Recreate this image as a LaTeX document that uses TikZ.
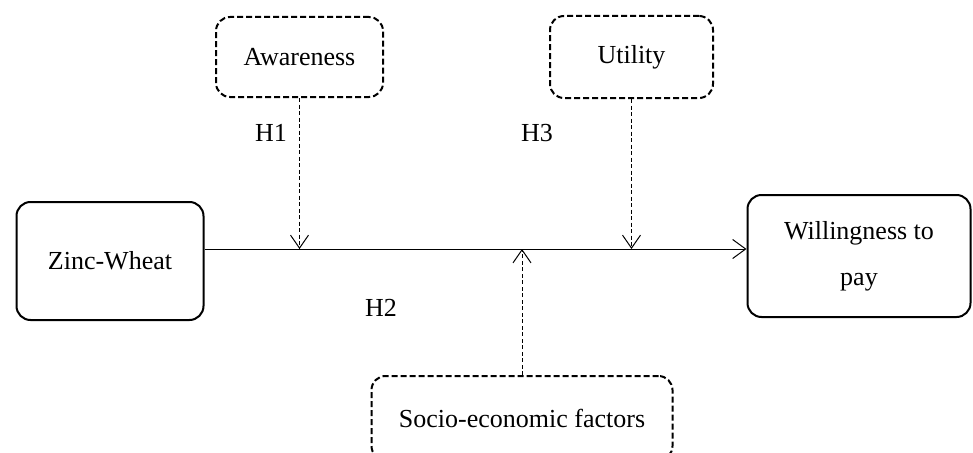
\documentclass[tikz,border=0pt]{standalone}
\usepackage{fontspec}
\setmainfont{Liberation Serif}
\usetikzlibrary{arrows.meta,calc}

\begin{document}
\begin{tikzpicture}[x=1pt,y=-1pt,
  font=\fontsize{26}{46}\selectfont,
  solidbox/.style={draw,line width=2pt,rounded corners=14pt,align=center,inner sep=0pt},
  dashbox/.style={draw,line width=2pt,dashed,dash pattern=on 6pt off 3pt,rounded corners=14pt,align=center,inner sep=0pt},
  link/.style={line width=1pt,-{Straight Barb[length=13pt,width=19pt,line width=1pt]}},
  dashlink/.style={line width=0.9pt,dash pattern=on 4pt off 2.5pt,-{Straight Barb[length=13pt,width=18pt,line width=1pt]}}
]

\useasboundingbox (0,0) rectangle (973,452);
\clip (0,0) rectangle (973,452);

% Boites
\node[solidbox,minimum width=187pt,minimum height=118pt] (zinc) at (110,261)
{Zinc-Wheat};

\node[solidbox,minimum width=223pt,minimum height=122pt] (wtp) at (859,256)
{Willingness to\\pay};

\node[dashbox,minimum width=167pt,minimum height=80pt] (aware) at (299.5,57)
{Awareness};

\node[dashbox,minimum width=163pt,minimum height=82pt] (util) at (631.5,57)
{Utility};

\node[dashbox,minimum width=301pt,minimum height=84pt] (socio) at (522,418)
{Socio-economic factors};

% Axe principal
\coordinate (axis) at (0,249);

% Fleches
\draw[link] (zinc.east |- axis) -- (wtp.west |- axis);

\draw[dashlink] (aware.south) -- (aware.south |- axis);
\draw[dashlink] (util.south) -- (util.south |- axis);
\draw[dashlink] (socio.north) -- (socio.north |- axis);

% Hypotheses
\node (h1) at (271,133) {H1};
\node (h3) at (537,133) {H3};
\node (h2) at (381,308) {H2};

\end{tikzpicture}
\end{document}
